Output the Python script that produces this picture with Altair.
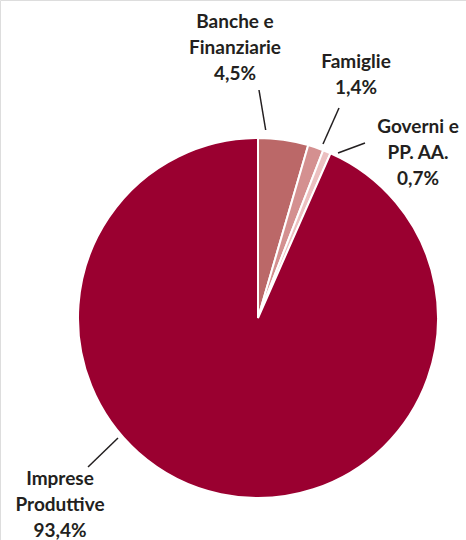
import altair as alt
import pandas as pd

# Data
categories = ["Banche e Finanziarie", "Famiglie", "Governi e PP. AA.", "Imprese Produttive"]
shares = [4.5, 1.4, 0.7, 93.4]
label_texts = ["Banche e\nFinanziarie\n4,5%", "Famiglie\n1,4%", "Governi e\nPP. AA.\n0,7%", "Imprese\nProduttive\n93,4%"]
colors = ["#bb6868", "#d49090", "#ecc0c0", "#9a0030"]

# Annotation layout (pixels relative to pie centre, y up)
leader_x1 = [7.7, 65, 80, -140]
leader_y1 = [188, 174, 165, -120]
leader_x2 = [1, 81, 107, -170]
leader_y2 = [228, 210, 175, -149]
text_x = [-23, 98, 160, -198]
text_y = [290, 250, 185, -167]

pie_df = pd.DataFrame({"cat": categories, "share": shares, "ord": list(range(len(categories)))})
ann_df = pd.DataFrame({
    "cat": categories, "label": label_texts,
    "x1": leader_x1, "y1": leader_y1, "x2": leader_x2, "y2": leader_y2,
    "tx": text_x, "ty": text_y,
})

xs = alt.Scale(domain=[-258, 208], nice=False, zero=False)
ys = alt.Scale(domain=[-222, 318], nice=False, zero=False)

pie = alt.Chart(pie_df).mark_arc(outerRadius=180, stroke="white", strokeWidth=2).encode(
    theta=alt.Theta("share:Q", stack=True),
    order=alt.Order("ord:Q"),
    color=alt.Color("cat:N", scale=alt.Scale(domain=categories, range=colors), legend=None),
    x=alt.datum(0, scale=xs, axis=None),
    y=alt.datum(0, scale=ys, axis=None),
)

leaders = alt.Chart(ann_df).mark_rule(color="#231f20", strokeWidth=1.5).encode(
    x=alt.X("x1:Q", scale=xs, axis=None),
    y=alt.Y("y1:Q", scale=ys, axis=None),
    x2="x2:Q",
    y2="y2:Q",
)

texts = alt.Chart(ann_df).mark_text(
    font="Lato", fontWeight="bold", fontSize=19, color="#231f20",
    align="center", baseline="alphabetic", lineBreak="\n", lineHeight=26,
).encode(
    x=alt.X("tx:Q", scale=xs, axis=None),
    y=alt.Y("ty:Q", scale=ys, axis=None),
    text="label:N",
)

chart = alt.layer(pie, leaders, texts).properties(
    width=466, height=540, padding=0, autosize=alt.AutoSizeParams(type="none")
).configure_view(stroke=None).configure(background="white")

chart.save("out.html", embed_options={"renderer": "svg", "actions": False})
